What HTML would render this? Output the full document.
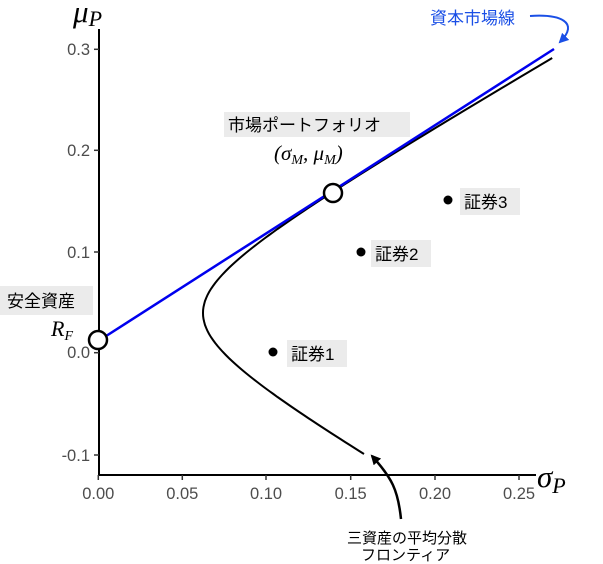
<!DOCTYPE html>
<html><head><meta charset="utf-8"><style>
body{margin:0;background:#fff;}
svg{display:block;}
.jp{font-family:"Liberation Sans","Noto Sans CJK JP",sans-serif;}
.tk{font-family:"Liberation Sans",sans-serif;font-size:16.5px;fill:#4d4d4d;}
.m{font-family:"Liberation Serif",serif;font-style:italic;}
</style></head><body>
<svg id="s" width="603" height="564" viewBox="0 0 603 564" xmlns="http://www.w3.org/2000/svg">
<defs>
<marker id="ab" markerWidth="10" markerHeight="10" refX="8" refY="5" orient="auto" markerUnits="userSpaceOnUse"><path d="M0,0 L10,5 L0,10 Z" fill="#000"/></marker>
<marker id="ablue" markerWidth="10" markerHeight="10" refX="8" refY="5" orient="auto" markerUnits="userSpaceOnUse"><path d="M0,0 L10,5 L0,10 Z" fill="#1a4fe6"/></marker>
</defs>
<line x1="99" y1="29" x2="99" y2="475" stroke="#000" stroke-width="2"/>
<line x1="98" y1="475" x2="536" y2="475" stroke="#000" stroke-width="2"/>
<g stroke="#333" stroke-width="1.5">
<line x1="94" y1="49.3" x2="99" y2="49.3"/><line x1="94" y1="150.3" x2="99" y2="150.3"/>
<line x1="94" y1="252" x2="99" y2="252"/><line x1="94" y1="352.7" x2="99" y2="352.7"/>
<line x1="94" y1="455" x2="99" y2="455"/>
<line x1="98.3" y1="475" x2="98.3" y2="480"/><line x1="182.3" y1="475" x2="182.3" y2="480"/>
<line x1="266" y1="475" x2="266" y2="480"/><line x1="350.7" y1="475" x2="350.7" y2="480"/>
<line x1="435" y1="475" x2="435" y2="480"/><line x1="519" y1="475" x2="519" y2="480"/>
</g>
<g class="tk" text-anchor="end">
<text x="90" y="55">0.3</text><text x="90" y="156">0.2</text><text x="90" y="258">0.1</text>
<text x="90" y="358">0.0</text><text x="90" y="461">-0.1</text>
</g>
<g class="tk" text-anchor="middle">
<text x="98.3" y="499">0.00</text><text x="182.3" y="499">0.05</text><text x="266" y="499">0.10</text>
<text x="350.7" y="499">0.15</text><text x="435" y="499">0.20</text><text x="519" y="499">0.25</text>
</g>
<text class="m" x="73" y="22" font-size="31">μ<tspan font-size="22" dy="4">P</tspan></text>
<text class="m" x="537" y="487" font-size="31">σ<tspan font-size="22" dy="6">P</tspan></text>
<path id="fr" fill="none" stroke="#000" stroke-width="2"/>
<line x1="98.3" y1="341" x2="554" y2="49" stroke="#0000ee" stroke-width="2.5"/>
<circle cx="98" cy="340" r="9" fill="#fff" stroke="#000" stroke-width="2.5"/>
<circle cx="333" cy="193" r="9" fill="#fff" stroke="#000" stroke-width="2.5"/>
<circle cx="273" cy="352" r="4.5" fill="#000"/>
<circle cx="361" cy="252" r="4.5" fill="#000"/>
<circle cx="448" cy="200" r="4.5" fill="#000"/>
<g class="jp" font-size="17">
<rect x="287" y="340" width="60" height="27" fill="#ebebeb"/><text x="291" y="360">証券1</text>
<rect x="371" y="240" width="60" height="27" fill="#ebebeb"/><text x="375" y="260">証券2</text>
<rect x="460" y="188" width="60" height="27" fill="#ebebeb"/><text x="464" y="208">証券3</text>
<rect x="224" y="112" width="186" height="25" fill="#ebebeb"/><text x="228" y="131">市場ポートフォリオ</text>
<rect x="0" y="286" width="93" height="29" fill="#ebebeb"/><text x="7" y="307">安全資産</text>
<text x="430" y="24" fill="#1a4fe6">資本市場線</text>
<text x="347" y="543" font-size="15">三資産の平均分散</text>
<text x="361" y="560" font-size="15">フロンティア</text>
</g>
<text class="m" x="274" y="160" font-size="21">(σ<tspan font-size="14" dy="4">M</tspan><tspan dy="-4">, μ</tspan><tspan font-size="14" dy="4">M</tspan><tspan dy="-4">)</tspan></text>
<text class="m" x="51" y="336" font-size="22">R<tspan font-size="14" dy="4">F</tspan></text>
<path d="M530,16 C560,14 580,22 560,42" fill="none" stroke="#1a4fe6" stroke-width="2" marker-end="url(#ablue)"/>
<path d="M401,519 C398,490 392,478 372,456" fill="none" stroke="#000" stroke-width="2.5" marker-end="url(#ab)"/>
</svg>
<script>
var d="";for(var y=58;y<=455;y+=3){var dy=y-313;var X=Math.sqrt(10962+3*dy*dy);d+=(d?"L":"M")+(98.3+X).toFixed(1)+","+y;}
document.getElementById("fr").setAttribute("d",d);
</script>
</body></html>
